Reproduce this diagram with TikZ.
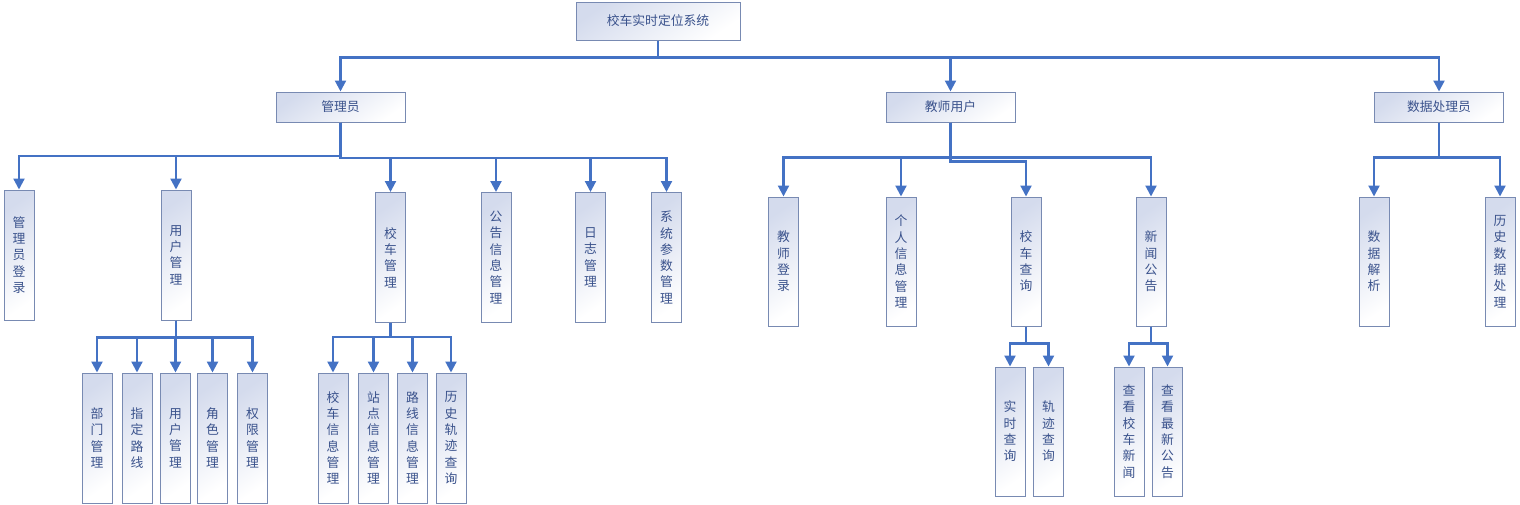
\documentclass[tikz,border=0pt]{standalone}
\usepackage{fontspec}
\setmainfont{Noto Sans CJK SC}
\usetikzlibrary{arrows.meta}
\definecolor{linec}{RGB}{68,114,196}
\definecolor{boxb}{RGB}{120,138,178}
\definecolor{txtc}{RGB}{58,82,140}
\definecolor{boxf}{RGB}{212,219,237}
\tikzset{
  box/.style={draw=boxb, line width=1pt, shading=axis, top color=boxf, bottom color=white, shading angle=35,
    inner sep=0pt, align=center, text=txtc, font={\fontsize{12.8}{16.3}\selectfont}},
  hbox/.style={box, minimum width=129pt, minimum height=30pt},
  rootbox/.style={box, minimum width=164pt, minimum height=38pt},
  vbox/.style={box, minimum width=30pt, minimum height=130pt},
  vboxs/.style={box, minimum width=30pt, minimum height=129pt},
  conn/.style={draw=linec, line width=2.2pt, -{Triangle[length=11pt,width=11pt]}}
}
\begin{document}
\begin{tikzpicture}[x=1pt,y=-1pt]
\useasboundingbox (0,0) rectangle (1520,504);
% level 0 and 1
\node[rootbox] (root) at (658,21) {校车实时定位系统};
\node[hbox] (adm) at (340.5,107) {管理员};
\node[hbox] (tea) at (950.5,107) {教师用户};
\node[hbox] (dat) at (1439,107) {数据处理员};
% admin level 2
\node[vbox] (a1) at (19,255) {管\\理\\员\\登\\录};
\node[vbox] (a2) at (176,255) {用\\户\\管\\理};
\node[vbox] (a3) at (390.5,257.5) {校\\车\\管\\理};
\node[vbox] (a4) at (496,257.5) {公\\告\\信\\息\\管\\理};
\node[vbox] (a5) at (590.5,257.5) {日\\志\\管\\理};
\node[vbox] (a6) at (666.5,257.5) {系\\统\\参\\数\\管\\理};
% admin level 3
\node[vbox] (b1) at (97,438) {部\\门\\管\\理};
\node[vbox] (b2) at (137,438) {指\\定\\路\\线};
\node[vbox] (b3) at (175.5,438) {用\\户\\管\\理};
\node[vbox] (b4) at (212.5,438) {角\\色\\管\\理};
\node[vbox] (b5) at (252.5,438) {权\\限\\管\\理};
\node[vbox] (c1) at (333,438) {校\\车\\信\\息\\管\\理};
\node[vbox] (c2) at (373.5,438) {站\\点\\信\\息\\管\\理};
\node[vbox] (c3) at (412.5,438) {路\\线\\信\\息\\管\\理};
\node[vbox] (c4) at (451,438) {历\\史\\轨\\迹\\查\\询};
% teacher level 2
\node[vboxs] (t1) at (783.5,261.5) {教\\师\\登\\录};
\node[vboxs] (t2) at (901,261.5) {个\\人\\信\\息\\管\\理};
\node[vboxs] (t3) at (1026,261.5) {校\\车\\查\\询};
\node[vboxs] (t4) at (1151,261.5) {新\\闻\\公\\告};
% teacher level 3
\node[vboxs] (u1) at (1010,431.5) {实\\时\\查\\询};
\node[vboxs] (u2) at (1048.5,431.5) {轨\\迹\\查\\询};
\node[vboxs] (v1) at (1129,431.5) {查\\看\\校\\车\\新\\闻};
\node[vboxs] (v2) at (1167.5,431.5) {查\\看\\最\\新\\公\\告};
% data level 2
\node[vboxs] (d1) at (1374,261.5) {数\\据\\解\\析};
\node[vboxs] (d2) at (1500,261.5) {历\\史\\数\\据\\处\\理};
% connectors
\foreach \c in {adm,tea,dat}
  \draw[conn] (root.south) -- ++(0,17) -| (\c.north);
\foreach \c in {a1,a2}
  \draw[conn] (adm.south) -- ++(0,33.5) -| (\c.north);
\foreach \c in {a3,a4,a5,a6}
  \draw[conn] (adm.south) -- ++(0,35.5) -| (\c.north);
\foreach \c in {b1,b2,b3,b4,b5}
  \draw[conn] (a2.south) -- ++(0,17) -| (\c.north);
\foreach \c in {c1,c2,c3,c4}
  \draw[conn] (a3.south) -- ++(0,14) -| (\c.north);
\foreach \c in {t1,t2,t4}
  \draw[conn] (tea.south) -- ++(0,35) -| (\c.north);
\draw[conn] (tea.south) -- ++(0,39) -| (t3.north);
\foreach \c in {u1,u2}
  \draw[conn] (t3.south) -- ++(0,17) -| (\c.north);
\foreach \c in {v1,v2}
  \draw[conn] (t4.south) -- ++(0,17) -| (\c.north);
\foreach \c in {d1,d2}
  \draw[conn] (dat.south) -- ++(0,35) -| (\c.north);
\end{tikzpicture}
\end{document}
